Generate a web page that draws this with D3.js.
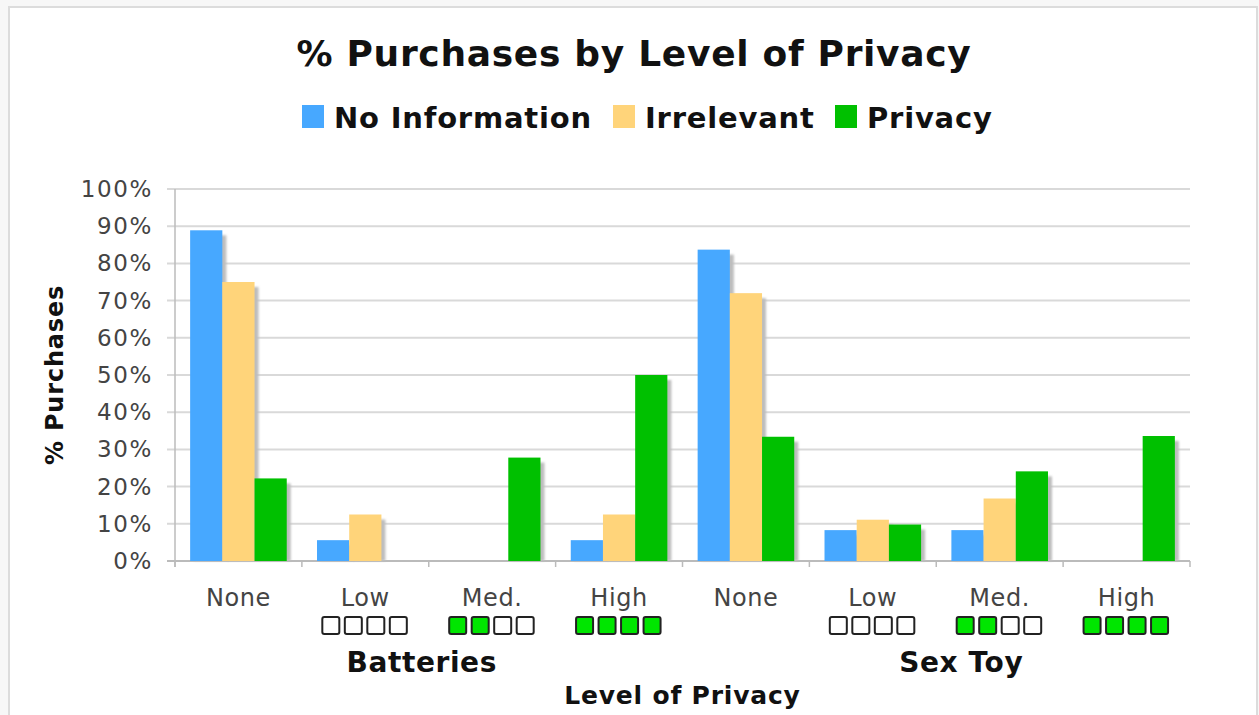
<!DOCTYPE html>
<meta charset="utf-8">
<style>
    body { margin: 0; background: #f7f7f7; }
    svg { display: block; }
    text { font-family: "DejaVu Sans", Verdana, sans-serif; }
</style>
<svg width="1259" height="715"></svg>
<script src="https://cdnjs.cloudflare.com/ajax/libs/d3/7.8.5/d3.min.js"></script>
<script>

    // data
    var categories = ["None", "Low", "Med.", "High", "None", "Low", "Med.", "High"];
    var privacyLevel = [-1, 0, 2, 4, -1, 0, 2, 4];   // filled squares, -1 = no squares
    var products = ["Batteries", "Sex Toy"];
    var seriesNames = ["No Information", "Irrelevant", "Privacy"];
    var noInformation = [88.9, 5.6, 0, 5.6, 83.7, 8.3, 8.3, 0];
    var irrelevant = [75.0, 12.5, 0, 12.5, 72.0, 11.1, 16.8, 0];
    var privacy = [22.2, 0, 27.8, 50.0, 33.4, 9.8, 24.1, 33.6];
    var yTicks = [0, 10, 20, 30, 40, 50, 60, 70, 80, 90, 100];
    var colors = ["#47a8ff", "#ffd47a", "#00c000"];

    var svg = d3.select("svg"),
        width = +svg.attr("width"),
        height = +svg.attr("height");

    var margin = {left: 175, right: 69, top: 189, bottom: 154};

    // frame
    svg.append("rect")
        .attr("x", 9).attr("y", 7)
        .attr("width", width - 11).attr("height", height)
        .attr("fill", "#fff")
        .attr("stroke", "#dcdcdc")
        .attr("stroke-width", 2);

    var defs = svg.append("defs");
    defs.append("filter").attr("id", "blur")
        .append("feGaussianBlur").attr("stdDeviation", 1.2);

    var x = d3.scaleBand()
        .domain(d3.range(categories.length))
        .range([margin.left, width - margin.right]);

    var x1 = d3.scaleBand()
        .domain(d3.range(seriesNames.length))
        .range([0, x.bandwidth()])
        .paddingOuter(0.47);

    var y = d3.scaleLinear()
        .domain([0, 100])
        .range([height - margin.bottom, margin.top]);

    // gridlines
    svg.append("g")
        .selectAll("line")
        .data(yTicks)
        .enter()
        .append("line")
        .attr("x1", margin.left - 8)
        .attr("x2", width - margin.right)
        .attr("y1", function (d) { return y(d); })
        .attr("y2", function (d) { return y(d); })
        .attr("stroke", function (d) { return d == 0 ? "#bbb" : "#d9d9d9"; })
        .attr("stroke-width", 2);

    // y axis line
    svg.append("line")
        .attr("x1", margin.left).attr("x2", margin.left)
        .attr("y1", y(100)).attr("y2", y(0) + 6)
        .attr("stroke", "#bbb").attr("stroke-width", 1.5);

    // x ticks between groups
    svg.append("g")
        .selectAll("line")
        .data(d3.range(categories.length + 1))
        .enter()
        .append("line")
        .attr("x1", function (d) { return margin.left + d * x.bandwidth(); })
        .attr("x2", function (d) { return margin.left + d * x.bandwidth(); })
        .attr("y1", y(0))
        .attr("y2", y(0) + 6)
        .attr("stroke", "#bbb").attr("stroke-width", 1.5);

    // y tick labels
    svg.append("g")
        .selectAll("text")
        .data(yTicks)
        .enter()
        .append("text")
        .attr("x", 153)
        .attr("y", function (d) { return y(d) + 8; })
        .attr("text-anchor", "end")
        .attr("font-size", 23)
        .attr("letter-spacing", 1.6)
        .attr("fill", "#444")
        .text(function (d) { return d + "%"; });

    var series = [noInformation, irrelevant, privacy];
    var bars = [];
    categories.forEach(function (c, i) {
        series.forEach(function (s, j) {
            bars.push({cat: i, ser: j, value: s[i]});
        });
    });
    bars = bars.filter(function (d) { return d.value > 0; });

    // shadows
    svg.append("g")
        .selectAll("rect")
        .data(bars)
        .enter()
        .append("rect")
        .attr("x", function (d) { return x(d.cat) + x1(d.ser) + 4; })
        .attr("y", function (d) { return y(d.value) + 5; })
        .attr("width", x1.bandwidth())
        .attr("height", function (d) { return Math.max(0, y(0) - y(d.value) - 5); })
        .attr("fill", "#bdbdbd")
        .attr("filter", "url(#blur)");

    svg.append("g")
        .selectAll("rect")
        .data(bars)
        .enter()
        .append("rect")
        .attr("x", function (d) { return x(d.cat) + x1(d.ser); })
        .attr("y", function (d) { return y(d.value); })
        .attr("width", x1.bandwidth())
        .attr("height", function (d) { return y(0) - y(d.value); })
        .attr("fill", function (d) { return colors[d.ser]; });

    // category labels
    svg.append("g")
        .selectAll("text")
        .data(categories)
        .enter()
        .append("text")
        .attr("x", function (d, i) { return x(i) + x.bandwidth() / 2; })
        .attr("y", 606)
        .attr("text-anchor", "middle")
        .attr("font-size", 24)
        .attr("letter-spacing", 0.6)
        .attr("fill", "#444")
        .text(function (d) { return d; });

    // privacy level squares
    var squares = [];
    privacyLevel.forEach(function (lv, i) {
        if (lv < 0) return;
        for (var k = 0; k < 4; k++) squares.push({cat: i, k: k, on: k < lv});
    });
    svg.append("g")
        .selectAll("rect")
        .data(squares)
        .enter()
        .append("rect")
        .attr("x", function (d) { return x(d.cat) + x.bandwidth() / 2 - 43 + d.k * 22.5; })
        .attr("y", 617)
        .attr("width", 17)
        .attr("height", 17)
        .attr("rx", 2)
        .attr("fill", function (d) { return d.on ? "#00e600" : "#fff"; })
        .attr("stroke", "#222")
        .attr("stroke-width", 2);

    // product labels
    svg.append("g")
        .selectAll("text")
        .data(products)
        .enter()
        .append("text")
        .attr("x", function (d, i) { return i == 0 ? x(2) - 7 : x(6) + 25; })
        .attr("y", 672)
        .attr("text-anchor", "middle")
        .attr("font-size", 28)
        .attr("letter-spacing", 0.6)
        .attr("font-weight", "bold")
        .attr("fill", "#111")
        .text(function (d) { return d; });

    svg.append("text")
        .attr("x", (margin.left + width - margin.right) / 2)
        .attr("y", 704)
        .attr("text-anchor", "middle")
        .attr("font-size", 25)
        .attr("letter-spacing", 0.8)
        .attr("font-weight", "bold")
        .attr("fill", "#111")
        .text("Level of Privacy");

    svg.append("text")
        .attr("transform", "translate(63," + (y(50)) + ") rotate(-90)")
        .attr("text-anchor", "middle")
        .attr("font-size", 24)
        .attr("letter-spacing", 0.8)
        .attr("font-weight", "bold")
        .attr("fill", "#111")
        .text("% Purchases");

    // title
    svg.append("text")
        .attr("x", 634)
        .attr("y", 66)
        .attr("text-anchor", "middle")
        .attr("font-size", 36)
        .attr("letter-spacing", 0.7)
        .attr("font-weight", "bold")
        .attr("fill", "#111")
        .text("% Purchases by Level of Privacy");

    // legend
    var legendX = [302, 613, 835];
    var legend = svg.append("g")
        .selectAll("g")
        .data(seriesNames)
        .enter()
        .append("g")
        .attr("transform", function (d, i) { return "translate(" + legendX[i] + ",105)"; });
    legend.append("rect")
        .attr("width", 22).attr("height", 23)
        .attr("fill", function (d, i) { return colors[i]; });
    legend.append("text")
        .attr("x", 32).attr("y", 23)
        .attr("font-size", 29)
        .attr("letter-spacing", 0.8)
        .attr("font-weight", "bold")
        .attr("fill", "#111")
        .text(function (d) { return d; });

</script>
